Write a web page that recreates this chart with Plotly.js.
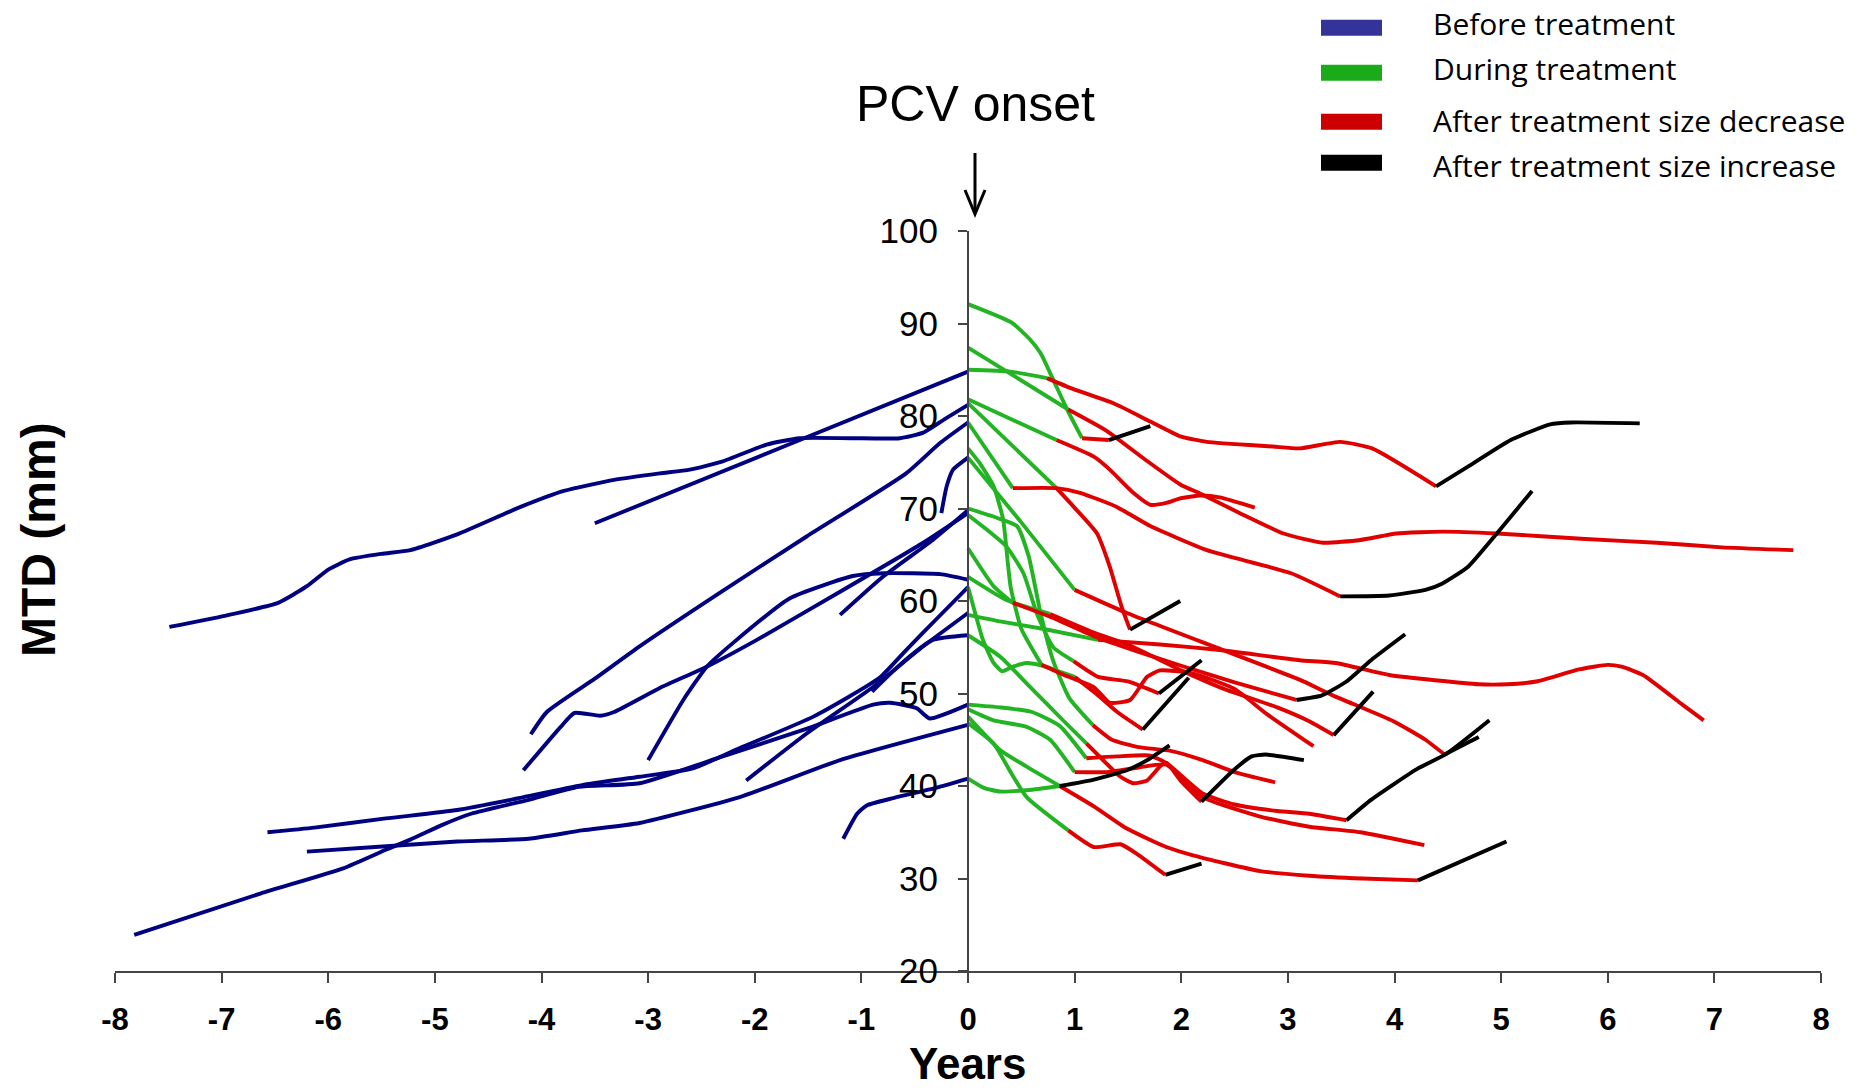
<!DOCTYPE html>
<html><head><meta charset="utf-8">
<script src="https://cdn.plot.ly/plotly-3.0.1.min.js"></script>
<style>html,body{margin:0;padding:0;background:#fff}#chart{width:1872px;height:1091px}</style>
</head><body><div id="chart"></div>
<script>
// ---------- axis ticks ----------
const xTickVals = [-8,-7,-6,-5,-4,-3,-2,-1,0,1,2,3,4,5,6,7,8];
const xTickText = ["-8","-7","-6","-5","-4","-3","-2","-1","0","1","2","3","4","5","6","7","8"];
const yTickVals = [20,30,40,50,60,70,80,90,100];
const yTickText = ["20","30","40","50","60","70","80","90","100"];
const legendLabels = ["Before treatment","During treatment","After treatment size decrease","After treatment size increase"];

// ---------- before treatment (blue) ----------
const B1x=[-7.49,-6.97,-6.47,-6.2,-6.0,-5.8,-5.5,-5.23,-4.79,-4.19,-3.79,-3.32,-2.89,-2.61,-2.30,-1.89,-1.58,-1.1,-0.64,-0.42,-0.2,0];
const B1y=[57.2,58.4,59.8,61.6,63.4,64.5,65.1,65.5,67.2,70.2,71.9,73.1,73.8,74.2,75.1,76.9,77.6,77.6,77.6,78.2,79.8,81.2];
const B2x=[-3.5,-1.75,0];
const B2y=[68.4,76.6,84.8];
const B3x=[-4.10,-3.95,-3.5,-3.08,-2.3,-1.51,-0.58,-0.26,0];
const B3y=[45.6,48.0,51.6,55.1,61.1,67.0,73.8,77.1,79.3];
const B4x=[-4.17,-3.82,-3.69,-3.45,-3.32,-2.89,-2.45,-1.98,-1.2,-0.42,0];
const B4y=[41.7,46.4,47.9,47.6,48.0,50.6,52.9,55.8,61.0,66.3,69.5];
const B5x=[-3.0,-2.67,-2.45,-2.2,-1.67,-1.08,-0.79,-0.26,0];
const B5y=[42.8,49.3,52.9,55.5,60.3,62.7,63.0,62.9,62.3];
const B6x=[-1.2,-0.79,-0.33,0];
const B6y=[58.5,62.7,66.6,69.8];
const B7x=[-7.82,-6.63,-5.86,-5.46,-5.23,-4.93,-4.66,-4.12,-3.65,-3.08,-2.3,-1.51,-0.89,-0.73,-0.48,-0.36,0];
const B7y=[23.9,28.4,31.1,33.1,34.2,35.8,37.0,38.5,39.9,40.3,43.2,46.2,48.8,49.0,48.4,47.3,48.8];
const B8x=[-6.57,-6.13,-5.46,-4.79,-4.29,-3.62,-3.08,-2.58,-2.14,-1.45,-0.83,-0.58,-0.3,0];
const B8y=[35.0,35.5,36.5,37.4,38.5,40.1,41.0,41.9,44.1,47.5,51.7,54.7,58.0,61.5];
const B9x=[-6.2,-5.56,-4.79,-4.12,-3.62,-3.08,-2.14,-1.2,0];
const B9y=[32.9,33.4,34.0,34.3,35.2,36.0,38.8,42.8,46.6];
const B10x=[-2.08,-1.51,-0.89,-0.42,0];
const B10y=[40.6,45.7,50.7,55.1,58.7];
const B11x=[-0.9,-0.6,-0.33,0];
const B11y=[50.2,53.5,55.8,56.3];
const B12x=[-1.17,-1.04,-0.95,-0.7,-0.3,0];
const B12y=[34.3,37.0,37.9,38.7,39.8,40.8];
const B13x=[-0.25,-0.2,-0.14,0];
const B13y=[69.5,72.4,74.2,75.5];

// ---------- during treatment (green) ----------
const G1x=[0,0.41,0.58,0.68,0.80,0.93,1.07];
const G1y=[92.1,90.1,88.3,86.8,83.9,80.7,77.6];
const G2x=[0,0.45,0.94];
const G2y=[87.4,84.2,80.7];
const G3x=[0,0.4,0.74];
const G3y=[85.0,84.8,84.1];
const G4x=[0,0.83];
const G4y=[81.8,77.4];
const G5x=[0,0.83];
const G5y=[81.4,72.2];
const G6x=[0,0.42];
const G6y=[79.3,72.2];
const G7x=[0,0.11,0.24,0.33,0.37,0.40,0.5,0.69];
const G7y=[76.5,74.9,72.4,68.8,64.5,61.5,57.0,53.1];
const G8x=[0,0.5,1.0];
const G8y=[75.5,68.5,61.2];
const G9x=[0,0.27,0.46,0.57,0.68,0.8,0.95,1.17];
const G9y=[70.0,69.0,68.1,64.8,58.7,53.5,49.5,46.6];
const G10x=[0,0.2,0.36,0.52,0.65,0.8,0.99];
const G10y=[69.3,67.5,65.9,63.0,58.5,55.0,53.5];
const G11x=[0,0.24,0.42];
const G11y=[65.7,61.6,59.8];
const G12x=[0,0.36,0.77];
const G12y=[62.6,60.1,58.6];
const G13x=[0,0.06,0.14,0.24,0.32,0.42,0.55,0.7,0.85,1.0];
const G13y=[61.5,59.0,55.8,53.3,52.4,52.9,53.3,53.0,52.4,51.8];
const G14x=[0,0.3,0.7,1.22];
const G14y=[58.5,57.8,57.0,55.8];
const G15x=[0,0.3,0.6,0.9,1.11];
const G15y=[56.3,54.0,50.5,47.0,44.6];
const G16x=[0,0.3,0.6,0.86,1.11];
const G16y=[48.8,48.5,48.0,46.5,43.0];
const G17x=[0,0.24,0.55,0.77,1.0];
const G17y=[48.3,47.1,46.4,45.0,41.5];
const G18x=[0,0.3,0.55,0.86];
const G18y=[47.5,43.9,42.1,40.0];
const G19x=[0,0.24,0.4,0.55,0.94];
const G19y=[46.8,44.6,41.5,38.8,35.2];
const G20x=[0,0.15,0.3,0.6,0.86];
const G20y=[40.8,39.8,39.4,39.6,40.0];

// ---------- after treatment, size decrease (red) ----------
const R1x=[1.07,1.32];
const R1y=[77.6,77.4];
const R2x=[0.94,1.30,1.66,1.99,2.18,2.55,2.96,3.33,3.68,4.02,4.45,4.96,5.79,6.46,7.07,7.74];
const R2y=[80.7,78.4,75.3,72.6,71.6,69.5,67.3,66.3,66.6,67.3,67.5,67.3,66.7,66.3,65.8,65.5];
const R3x=[0.74,0.99,1.36,1.71,1.99,2.24,2.86,3.11,3.49,3.79,4.39];
const R3y=[84.1,82.9,81.4,79.4,77.8,77.2,76.7,76.5,77.2,76.5,72.4];
const R4x=[0.83,1.18,1.33,1.55,1.71,1.86,1.99,2.18,2.36,2.69];
const R4y=[77.4,75.6,74.2,71.7,70.4,70.6,71.1,71.4,71.2,70.1];
const R5x=[0.42,0.83,1.05,1.39,1.71,2.24,3.03,3.49];
const R5y=[72.2,72.2,71.7,70.2,68.1,65.5,63.0,60.5];
const R6x=[0.83,0.99,1.21,1.33,1.44,1.52];
const R6y=[72.2,70.2,67.3,63.7,59.4,56.9];
const R7x=[1.0,1.49,2.39,3.11,3.42,3.99,4.29,4.47];
const R7y=[61.2,58.7,54.7,51.5,49.8,47.0,45.0,43.4];
const R8x=[1.22,1.80,2.36,3.11,3.45,3.95,4.79,5.06,5.33,5.73,6.0,6.13,6.33,6.70,6.90];
const R8y=[55.8,55.3,54.7,53.6,53.3,52.0,51.0,51.0,51.3,52.6,53.1,52.9,52.0,48.8,47.1];
const R9x=[0.42,0.77,1.18,1.6,2.0,2.5,3.08];
const R9y=[59.8,58.3,56.2,54.5,53.0,51.2,49.3];
const R10x=[0.77,1.2,1.5,2.0,2.4,2.9,3.2,3.43];
const R10y=[58.6,56.5,55.3,52.5,50.5,48.5,47.0,45.5];
const R11x=[0.69,0.9,1.18,1.33,1.52,1.68,1.8,2.1,2.5,2.8,3.24];
const R11y=[53.1,52.0,50.7,49.0,49.3,51.8,52.5,52.2,50.5,47.8,44.3];
const R12x=[0.99,1.22,1.5,1.79];
const R12y=[53.5,51.8,51.3,50.0];
const R13x=[1.0,1.2,1.4,1.64];
const R13y=[51.8,50.0,48.0,46.1];
const R14x=[1.17,1.35,1.6,1.9,2.2,2.5,2.88];
const R14y=[46.6,45.0,44.2,43.8,42.8,41.5,40.4];
const R15x=[1.11,1.25,1.43,1.55,1.68,1.80,1.86,2.0,2.19];
const R15y=[44.6,43.0,41.0,40.3,40.6,42.1,42.5,40.5,38.3];
const R16x=[1.11,1.4,1.7,1.86,2.2,2.5,2.9,3.2,3.55];
const R16y=[43.0,43.2,43.3,42.5,39.2,38.0,37.3,37.0,36.3];
const R17x=[1.0,1.3,1.6,1.86,2.2,2.74,3.2,3.68,4.28];
const R17y=[41.5,41.5,42.0,42.3,38.8,36.7,35.6,35.0,33.6];
const R18x=[0.86,1.18,1.49,1.86,2.11,2.74,3.2,3.7,4.22];
const R18y=[40.0,37.8,35.4,33.4,32.5,30.8,30.3,30.0,29.8];
const R19x=[0.94,1.18,1.43,1.58,1.85];
const R19y=[35.2,33.4,33.7,32.7,30.4];

// ---------- after treatment, size increase (black) ----------
const K1x=[1.32,1.71];
const K1y=[77.4,78.9];
const K2x=[4.39,4.7,5.09,5.46,5.66,6.30];
const K2y=[72.4,74.6,77.4,79.1,79.3,79.2];
const K3x=[3.49,3.95,4.29,4.45,4.69,4.96,5.29];
const K3y=[60.5,60.6,61.2,61.9,63.7,67.3,71.9];
const K4x=[1.52,1.99];
const K4y=[56.9,60.0];
const K5x=[4.47,4.79];
const K5y=[43.4,45.3];
const K6x=[3.08,3.32,3.55,3.78,4.10];
const K6y=[49.3,49.8,51.3,53.6,56.4];
const K7x=[3.43,3.80];
const K7y=[45.5,50.2];
const K8x=[1.79,2.19];
const K8y=[50.0,53.6];
const K9x=[1.64,2.07];
const K9y=[46.1,51.7];
const K10x=[2.19,2.49,2.66,2.79,3.15];
const K10y=[38.3,41.7,43.2,43.4,42.8];
const K11x=[3.55,3.78,4.22,4.49,4.89];
const K11y=[36.3,38.5,41.9,43.5,47.1];
const K12x=[0.86,1.18,1.49,1.68,1.89];
const K12y=[40.0,40.7,41.7,42.8,44.4];
const K13x=[1.85,2.19];
const K13y=[30.4,31.6];
const K14x=[4.22,5.05];
const K14y=[29.8,34.0];

// ---------- build ----------
const blue=[[B1x,B1y],[B2x,B2y],[B3x,B3y],[B4x,B4y],[B5x,B5y],[B6x,B6y],[B7x,B7y],[B8x,B8y],[B9x,B9y],[B10x,B10y],[B11x,B11y],[B12x,B12y],[B13x,B13y]];
const green=[[G1x,G1y],[G2x,G2y],[G3x,G3y],[G4x,G4y],[G5x,G5y],[G6x,G6y],[G7x,G7y],[G8x,G8y],[G9x,G9y],[G10x,G10y],[G11x,G11y],[G12x,G12y],[G13x,G13y],[G14x,G14y],[G15x,G15y],[G16x,G16y],[G17x,G17y],[G18x,G18y],[G19x,G19y],[G20x,G20y]];
const red=[[R1x,R1y],[R2x,R2y],[R3x,R3y],[R4x,R4y],[R5x,R5y],[R6x,R6y],[R7x,R7y],[R8x,R8y],[R9x,R9y],[R10x,R10y],[R11x,R11y],[R12x,R12y],[R13x,R13y],[R14x,R14y],[R15x,R15y],[R16x,R16y],[R17x,R17y],[R18x,R18y],[R19x,R19y]];
const black=[[K1x,K1y],[K2x,K2y],[K3x,K3y],[K4x,K4y],[K5x,K5y],[K6x,K6y],[K7x,K7y],[K8x,K8y],[K9x,K9y],[K10x,K10y],[K11x,K11y],[K12x,K12y],[K13x,K13y],[K14x,K14y]];

const LINE_COLORS={blue:'#000080',green:'#22b422',red:'#e00000',black:'#000000'};
const LEGEND_COLORS=['#333399','#1aab1a','#cc0000','#000000'];

const traces=[];
function add(group,color){
  group.forEach(([x,y])=>traces.push({type:'scatter',mode:'lines',x:x,y:y,
    line:{color:color,width:3.9,shape:'spline',smoothing:0.5},hoverinfo:'skip',showlegend:false}));
}
add(blue,LINE_COLORS.blue);
add(green,LINE_COLORS.green);
add(red,LINE_COLORS.red);
add(black,LINE_COLORS.black);

// pixel -> paper helpers (plot area 115..1821 x 231..971)
const L=115,R=1821,T=231,B=971;
const px=v=>(v-L)/(R-L);
const py=v=>(B-v)/(B-T);

const FONT='Arial, "Liberation Sans", sans-serif';
const annotations=[
  {text:'PCV onset',xref:'paper',yref:'paper',x:px(975),y:py(104),xanchor:'center',yanchor:'middle',showarrow:false,font:{family:FONT,size:50,color:'#000'}},
  {text:'<b>Years</b>',xref:'paper',yref:'paper',x:px(967),y:py(1063),xanchor:'center',yanchor:'middle',showarrow:false,font:{family:FONT,size:44,color:'#000'}},
  {text:'<b>MTD (mm)</b>',xref:'paper',yref:'paper',x:px(38),y:py(540),xanchor:'center',yanchor:'middle',textangle:-90,showarrow:false,font:{family:FONT,size:48,color:'#000'}}
];
const shapes=[
  {type:'line',xref:'paper',yref:'paper',x0:px(975),x1:px(975),y0:py(153),y1:py(213),line:{color:'#000',width:3}},
  {type:'path',xref:'paper',yref:'paper',path:`M ${px(965)} ${py(190)} L ${px(975)} ${py(214)} L ${px(985)} ${py(190)}`,line:{color:'#000',width:3}}
];
const rowRect=[27.7,72.7,121.7,162.7];
const rowText=[23.3,68.3,120,165];
legendLabels.forEach((lab,i)=>{
  shapes.push({type:'rect',xref:'paper',yref:'paper',x0:px(1321),x1:px(1382),y0:py(rowRect[i]+8),y1:py(rowRect[i]-8),fillcolor:LEGEND_COLORS[i],line:{width:0}});
  annotations.push({text:lab,xref:'paper',yref:'paper',x:px(1431),y:py(rowText[i]),xanchor:'left',yanchor:'middle',showarrow:false,font:{family:'"Open Sans", sans-serif',size:30,color:'#000'}});
});

const layout={
  width:1872,height:1091,
  margin:{l:L,r:1872-R,t:T,b:1091-B,autoexpand:false},
  paper_bgcolor:'#fff',plot_bgcolor:'#fff',
  showlegend:false,
  xaxis:{range:[-8,8],tickvals:xTickVals,ticktext:xTickText,ticks:'outside',ticklen:10,tickwidth:2,tickcolor:'#444',
    showline:true,linecolor:'#444',linewidth:2,showgrid:false,zeroline:false,ticklabelstandoff:10,
    tickfont:{family:FONT,size:31,color:'#000',weight:'bold'},automargin:false},
  yaxis:{range:[20,100],anchor:'free',position:0.5,tickvals:yTickVals,ticktext:yTickText,ticks:'outside',ticklen:9,tickwidth:2,tickcolor:'#444',
    showline:true,linecolor:'#444',linewidth:2,showgrid:false,zeroline:false,ticklabelstandoff:13,
    tickfont:{family:FONT,size:35,color:'#000'},automargin:false},
  annotations:annotations,shapes:shapes
};
Plotly.newPlot('chart',traces,layout,{staticPlot:true,displayModeBar:false});
</script></body></html>
